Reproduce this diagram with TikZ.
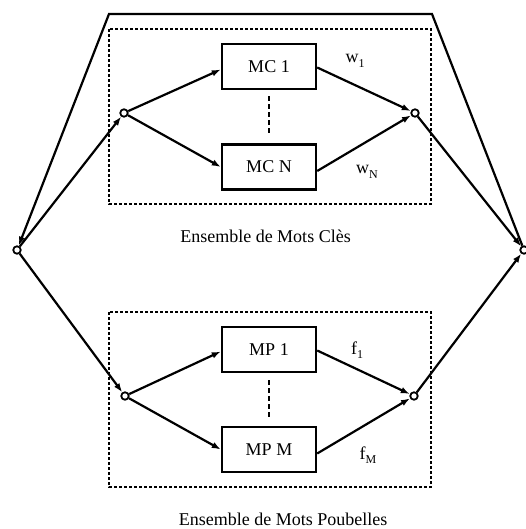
\documentclass[tikz,border=0pt]{standalone}
\usepackage{fontspec}
\setmainfont{Liberation Serif}
\usetikzlibrary{arrows.meta,calc}
\begin{document}
\begin{tikzpicture}[x=1pt,y=-1pt,
  font=\fontsize{18}{20}\selectfont,
  junction/.style={circle,draw,fill=white,line width=1.8pt,inner sep=0pt,minimum size=7.5pt},
  modelbox/.style={draw,line width=2.4pt,minimum width=94pt,minimum height=45pt,inner sep=0pt},
  groupbox/.style={draw,line width=2.4pt,dash pattern=on 3pt off 2pt},
  link/.style={line width=2.2pt,-{Latex[length=9pt,width=6.5pt]}},
  gap/.style={line width=2.4pt,dash pattern=on 5pt off 3pt},
  weight/.style={inner sep=0pt}]
\useasboundingbox (0,0) rectangle (525,529);

% grouping frames
\draw[groupbox] (109,29) rectangle (431,204);
\draw[groupbox] (109,312) rectangle (431,487);

% model boxes
\node[modelbox] (mc1) at (269,66.5) {MC 1};
\node[modelbox] (mcn) at (269,167) {MC N};
\node[modelbox] (mp1) at (269,349.5) {MP 1};
\node[modelbox] (mpm) at (269,449.5) {MP M};

% junction points
\node[junction] (in)  at (17,250) {};
\node[junction] (out) at (524,250) {};
\node[junction] (kin) at (124,113) {};
\node[junction] (kout) at (415,113) {};
\node[junction] (pin) at (125,396) {};
\node[junction] (pout) at (414,396) {};

\coordinate (tl) at (109,14);
\coordinate (tr) at (432,14);

% vertical ellipsis between models
\draw[gap] (mc1.south) ++(0,6) -- ($(mcn.north)+(0,-8)$);
\draw[gap] (mp1.south) ++(0,7) -- ($(mpm.north)+(0,-9)$);

% feedback loop over the top
\draw[link] (out) -- (tr) -- (tl) -- (in);

% splitting to the two groups
\draw[link] (in) -- (kin);
\draw[link] (in) -- (pin);

% keyword models
\draw[link] (kin) -- ($(mc1.west)+(0,3)$);
\draw[link] (kin) -- (mcn.west);
\draw[link] ($(mc1.east)+(0,1)$) -- (kout);
\draw[link] ($(mcn.east)+(0,4)$) -- (kout);

% garbage models
\draw[link] (pin) -- ($(mp1.west)+(0,2)$);
\draw[link] (pin) -- (mpm.west);
\draw[link] ($(mp1.east)+(0,1)$) -- (pout);
\draw[link] ($(mpm.east)+(0,4)$) -- (pout);

% merging into the output
\draw[link] (kout) -- (out);
\draw[link] (pout) -- (out);

% weights
\node[weight] (w1) at (355,61) {w\raisebox{-0.55ex}{\fontsize{12}{12}\selectfont 1}};
\node[weight] (wn) at (367,172) {w\raisebox{-0.55ex}{\fontsize{12}{12}\selectfont N}};
\node[weight] (f1) at (357,350) {f\raisebox{-0.55ex}{\fontsize{12}{12}\selectfont 1}};
\node[weight] (fm) at (368,455) {f\raisebox{-0.55ex}{\fontsize{12}{12}\selectfont M}};

% captions
\node (capk) at (265.5,236) {Ensemble de Mots Clès};
\node (capp) at (283,519) {Ensemble de Mots Poubelles};
\end{tikzpicture}
\end{document}
